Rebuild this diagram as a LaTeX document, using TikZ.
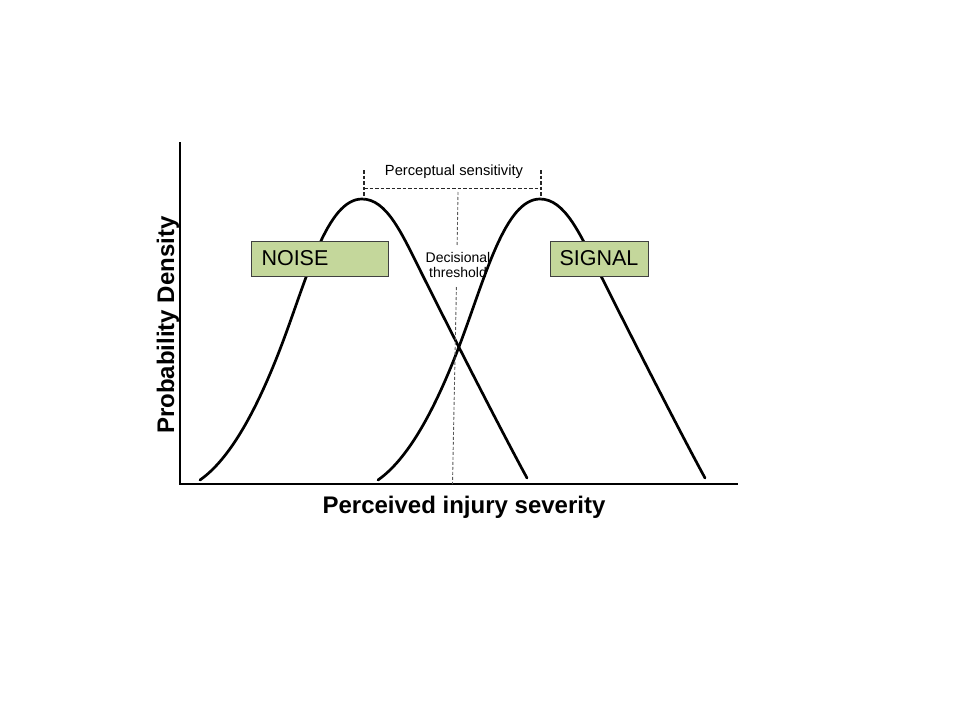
\documentclass[tikz,border=0pt]{standalone}
\usepackage{fontspec}
\setmainfont{Liberation Sans}
\definecolor{boxgreen}{RGB}{196,215,155}
\begin{document}
\begin{tikzpicture}[x=1pt,y=-1pt,
  curve/.style={line width=2.7pt, line join=round, line cap=round},
  axisline/.style={line width=2.7pt},
  labelbox/.style={draw=black!75, line width=0.8pt, fill=boxgreen, minimum height=35pt, inner ysep=0pt, font=\fontsize{21.5}{24}\selectfont},
  threshline/.style={draw=black!65, line width=0.9pt, dash pattern=on 3pt off 2pt},
  bracketline/.style={draw=black!85, line width=1.1pt, dash pattern=on 3.5pt off 2pt},
  smalltext/.style={font=\fontsize{14}{15}\selectfont, inner sep=0pt},
  axislabel/.style={font=\fontsize{24}{28}\selectfont\bfseries, inner sep=0pt},
  bell/.pic={
    \draw[curve] (-162,281) .. controls (-132,260) and (-105,211) .. (-80,145)
      .. controls (-55,79) and (-35,0) .. (0,0)
      .. controls (25,0) and (40,35) .. (60,75)
      .. controls (95,145) and (140,233) .. (165,279);
  }]
\useasboundingbox (0,0) rectangle (960,720);
% axes
\coordinate (origin) at (180,484);
\coordinate (ytop) at (180,142);
\coordinate (xend) at (738,484);
\draw[axisline] (ytop) -- (origin) -- (xend);
% curves
\pic at (362,199) {bell};
\pic at (540,199) {bell};
% boxes
\node[labelbox, minimum width=136.5pt, text width=116.5pt, inner xsep=10pt, align=left] (noise) at (319.75,258.5) {NOISE};
\node[labelbox, minimum width=98pt, inner xsep=0pt] (signal) at (599,258.5) {SIGNAL};
% perceptual sensitivity bracket
\coordinate (pl0) at (364,170);
\coordinate (pl1) at (364,199);
\coordinate (pr0) at (541,170);
\coordinate (pr1) at (541,199);
\coordinate (pml) at (364,188.5);
\coordinate (pmr) at (541,188.5);
\draw[bracketline] (pl0) -- (pl1);
\draw[bracketline] (pr0) -- (pr1);
\draw[bracketline] (pml) -- (pmr);
\node[smalltext, anchor=base, font=\fontsize{14.7}{16}\selectfont] (percept) at (454,175.5) {Perceptual sensitivity};
% decisional threshold
\node[smalltext, align=center, anchor=base] (decis) at (458,277) {Decisional\\threshold};
\coordinate (tt) at (458,192);
\coordinate (tm1) at (457.1,246);
\coordinate (tm2) at (456.4,287);
\coordinate (tb) at (452.5,484);
\draw[threshline] (tt) -- (tm1);
\draw[threshline] (tm2) -- (tb);
% axis labels
\node[axislabel, anchor=base] (xlabel) at (464,513) {Perceived injury severity};
\node[axislabel, rotate=90] (ylabel) at (168,325) {Probability Density};
\end{tikzpicture}
\end{document}
